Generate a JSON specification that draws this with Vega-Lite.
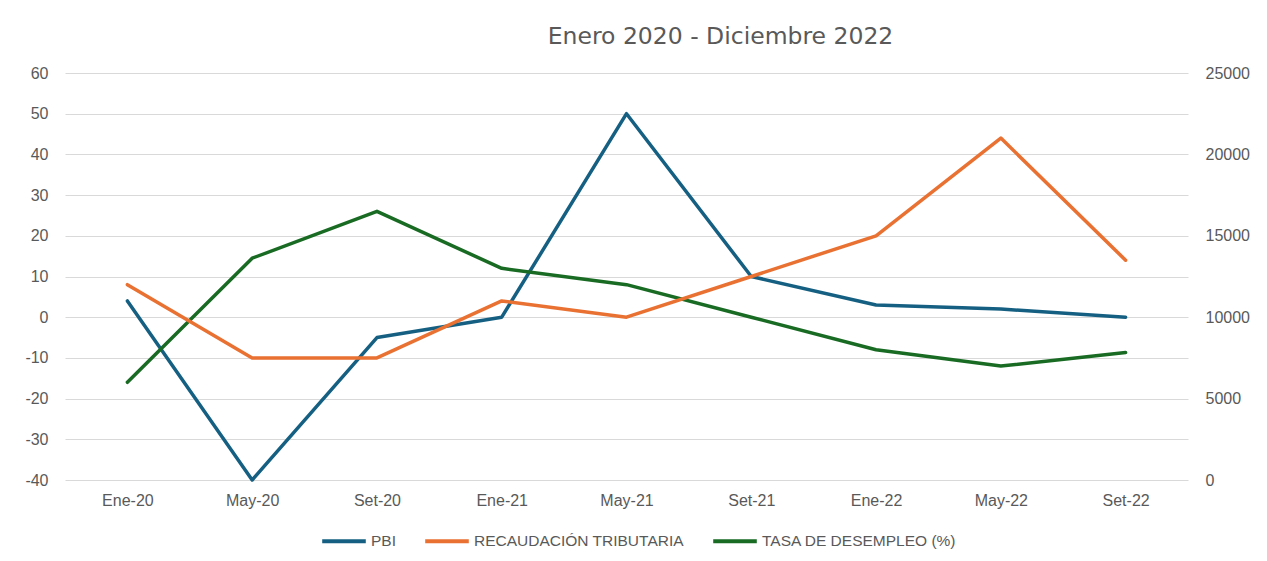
{
  "$schema": "https://vega.github.io/schema/vega-lite/v6.json",
  "width": 1123,
  "height": 407,
  "autosize": {"type": "none"},
  "padding": {"left": 65, "top": 73, "right": 79, "bottom": 81},
  "background": "white",
  "title": {
    "text": "Enero 2020 - Diciembre 2022",
    "font": "DejaVu Sans",
    "fontSize": 23.5,
    "fontWeight": "normal",
    "color": "#595959",
    "anchor": "middle",
    "frame": "group",
    "dx": 94,
    "offset": 17
  },
  "config": {
    "view": {"stroke": null},
    "font": "Liberation Sans",
    "axis": {
      "labelFont": "Liberation Sans",
      "labelFontSize": 16,
      "labelColor": "#595959",
      "domain": false,
      "ticks": false,
      "gridColor": "#D9D9D9",
      "gridWidth": 1,
      "title": null
    }
  },
  "data": {
    "values": [
      {"mes": "Ene-20", "serie": "PBI", "valor": 4},
      {"mes": "May-20", "serie": "PBI", "valor": -40},
      {"mes": "Set-20", "serie": "PBI", "valor": -5},
      {"mes": "Ene-21", "serie": "PBI", "valor": 0},
      {"mes": "May-21", "serie": "PBI", "valor": 50},
      {"mes": "Set-21", "serie": "PBI", "valor": 10},
      {"mes": "Ene-22", "serie": "PBI", "valor": 3},
      {"mes": "May-22", "serie": "PBI", "valor": 2},
      {"mes": "Set-22", "serie": "PBI", "valor": 0},
      {"mes": "Ene-20", "serie": "RECAUDACIÓN TRIBUTARIA", "valor": 12000},
      {"mes": "May-20", "serie": "RECAUDACIÓN TRIBUTARIA", "valor": 7500},
      {"mes": "Set-20", "serie": "RECAUDACIÓN TRIBUTARIA", "valor": 7500},
      {"mes": "Ene-21", "serie": "RECAUDACIÓN TRIBUTARIA", "valor": 11000},
      {"mes": "May-21", "serie": "RECAUDACIÓN TRIBUTARIA", "valor": 10000},
      {"mes": "Set-21", "serie": "RECAUDACIÓN TRIBUTARIA", "valor": 12500},
      {"mes": "Ene-22", "serie": "RECAUDACIÓN TRIBUTARIA", "valor": 15000},
      {"mes": "May-22", "serie": "RECAUDACIÓN TRIBUTARIA", "valor": 21000},
      {"mes": "Set-22", "serie": "RECAUDACIÓN TRIBUTARIA", "valor": 13500},
      {"mes": "Ene-20", "serie": "TASA DE DESEMPLEO (%)", "valor": -16},
      {"mes": "May-20", "serie": "TASA DE DESEMPLEO (%)", "valor": 14.5},
      {"mes": "Set-20", "serie": "TASA DE DESEMPLEO (%)", "valor": 26},
      {"mes": "Ene-21", "serie": "TASA DE DESEMPLEO (%)", "valor": 12},
      {"mes": "May-21", "serie": "TASA DE DESEMPLEO (%)", "valor": 8},
      {"mes": "Set-21", "serie": "TASA DE DESEMPLEO (%)", "valor": 0},
      {"mes": "Ene-22", "serie": "TASA DE DESEMPLEO (%)", "valor": -8},
      {"mes": "May-22", "serie": "TASA DE DESEMPLEO (%)", "valor": -12},
      {"mes": "Set-22", "serie": "TASA DE DESEMPLEO (%)", "valor": -8.7}
    ]
  },
  "encoding": {
    "x": {
      "field": "mes",
      "type": "ordinal",
      "scale": {
        "type": "point",
        "padding": 0.5,
        "domain": ["Ene-20", "May-20", "Set-20", "Ene-21", "May-21", "Set-21", "Ene-22", "May-22", "Set-22"]
      },
      "axis": {"labelAngle": 0, "labelPadding": 12, "grid": false}
    },
    "color": {
      "field": "serie",
      "type": "nominal",
      "scale": {
        "domain": ["PBI", "RECAUDACIÓN TRIBUTARIA", "TASA DE DESEMPLEO (%)"],
        "range": ["#156082", "#E97132", "#196B24"]
      },
      "legend": {
        "title": null,
        "orient": "none",
        "direction": "horizontal",
        "legendX": 255,
        "legendY": 444,
        "padding": 0,
        "symbolType": "stroke",
        "symbolSize": 1900,
        "symbolStrokeWidth": 4,
        "labelFont": "Liberation Sans",
        "labelFontSize": 15.5,
        "labelColor": "#595959",
        "labelOffset": 3,
        "labelLimit": 0,
        "columnPadding": 21
      }
    }
  },
  "layer": [
    {
      "transform": [{"filter": "datum.serie !== 'RECAUDACIÓN TRIBUTARIA'"}],
      "mark": {"type": "line", "strokeWidth": 3.5, "strokeCap": "round", "strokeJoin": "round"},
      "encoding": {
        "y": {
          "field": "valor",
          "type": "quantitative",
          "scale": {"domain": [-40, 60], "nice": false, "zero": false},
          "axis": {"orient": "left", "values": [-40, -30, -20, -10, 0, 10, 20, 30, 40, 50, 60], "labelExpr": "datum.value + ''", "labelPadding": 17, "grid": true}
        }
      }
    },
    {
      "transform": [{"filter": "datum.serie === 'RECAUDACIÓN TRIBUTARIA'"}],
      "mark": {"type": "line", "strokeWidth": 3.5, "strokeCap": "round", "strokeJoin": "round"},
      "encoding": {
        "y": {
          "field": "valor",
          "type": "quantitative",
          "scale": {"domain": [0, 25000], "nice": false},
          "axis": {"orient": "right", "values": [0, 5000, 10000, 15000, 20000, 25000], "labelExpr": "datum.value + ''", "labelPadding": 17, "grid": false}
        }
      }
    }
  ],
  "resolve": {"scale": {"y": "independent"}}
}
